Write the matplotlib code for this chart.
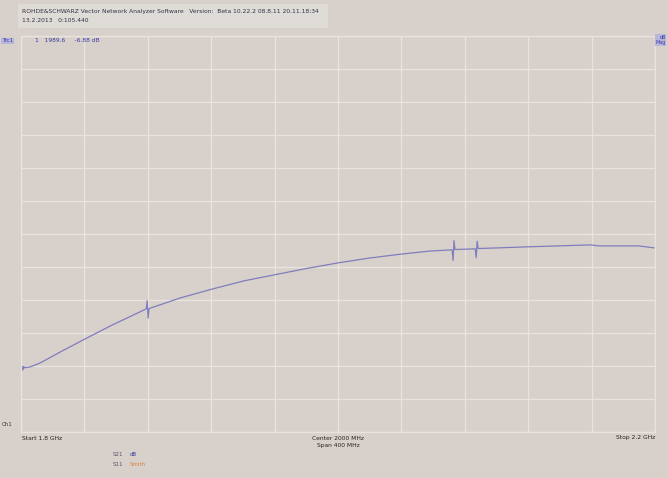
import numpy as np
import matplotlib.pyplot as plt

# trace (MHz, dB)
freq = [1800.6, 1805.7, 1812.0, 1824.6, 1840.4, 1856.2, 1879.0, 1879.6, 1880.2,
        1880.8, 1900.3, 1920.5, 1940.7, 1959.6, 1978.5, 1999.4, 2019.6, 2039.7,
        2057.4, 2072.0, 2072.6, 2073.2, 2073.8, 2086.6, 2087.2, 2087.8, 2088.4,
        2101.3, 2119.0, 2139.2, 2159.4, 2164.4, 2177.0, 2189.6, 2199.4]
s21_db = [-10.06, -10.03, -9.91, -9.58, -9.18, -8.79, -8.27, -8.02, -8.55,
          -8.26, -7.94, -7.67, -7.42, -7.24, -7.06, -6.88, -6.73, -6.61,
          -6.52, -6.48, -6.80, -6.20, -6.47, -6.45, -6.72, -6.22, -6.44,
          -6.42, -6.39, -6.36, -6.33, -6.36, -6.36, -6.36, -6.42]

start, stop = 1800, 2200
ref_db, n_div = 0, 12

header = ("ROHDE&SCHWARZ Vector Network Analyzer Software   Version:  "
          "Beta 10.22.2 08.8.11 20.11.18:34")
date_line = "13.2.2013   0:105.440"
marker_text = "1   1989.6     -6.88 dB"

bg = "#d8d1cb"
grid_c = "#e9e4df"
trace_c = "#7f7dbd"

fig = plt.figure(figsize=(6.68, 4.78), dpi=100, facecolor=bg)
fig.patches.append(plt.Rectangle((18 / 668, 1 - 28 / 478), 310 / 668, 24 / 478,
                                 transform=fig.transFigure, fc="#dfdbd6", ec="none"))
ax = fig.add_axes([21 / 668, 46 / 478, 634 / 668, 396 / 478])
ax.set_facecolor(bg)

ax.set_xlim(start, stop)
ax.set_ylim(ref_db - n_div, ref_db)
ax.set_xticks(np.linspace(start, stop, 11))
ax.set_yticks(np.arange(ref_db - n_div, ref_db + 1))
ax.grid(True, color=grid_c, lw=0.9)
ax.tick_params(length=0, labelbottom=False, labelleft=False)
for s in ax.spines.values():
    s.set_color(grid_c)
    s.set_linewidth(0.9)

ax.plot(freq, s21_db, color=trace_c, lw=0.9)
ax.plot(freq[0], s21_db[0], marker="v", ms=2.5, color=trace_c)

# header and annotations
fig.text(22 / 668, 1 - 12 / 478, header, fontsize=4.3, color="#333344", va="center")
fig.text(22 / 668, 1 - 21 / 478, date_line, fontsize=4.3, color="#333344", va="center")
fig.text(2 / 668, 1 - 41 / 478, "Trc1", fontsize=4, color="#3a3aa0", va="center",
         bbox=dict(fc="#b9b6dd", ec="none", pad=0.5))
fig.text(35 / 668, 1 - 41 / 478, marker_text, fontsize=4.3, color="#3a3aa0", va="center")
fig.text(666 / 668, 1 - 40 / 478, "dB\nMag", fontsize=3.5, color="#3a3aa0", va="center",
         ha="right", bbox=dict(fc="#b9b6dd", ec="none", pad=0.3))

fig.text(2 / 668, 1 - 424 / 478, "Ch1", fontsize=4, color="#333333", va="center")
fig.text(22 / 668, 1 - 438 / 478, "Start 1.8 GHz", fontsize=4.3, color="#222222", va="center")
fig.text(338 / 668, 1 - 439 / 478, "Center 2000 MHz", fontsize=4.3, color="#222222",
         va="center", ha="center")
fig.text(338 / 668, 1 - 446 / 478, "Span 400 MHz", fontsize=4.3, color="#222222",
         va="center", ha="center")
fig.text(655 / 668, 1 - 438 / 478, "Stop 2.2 GHz", fontsize=4.3, color="#222222",
         va="center", ha="right")

fig.text(113 / 668, 1 - 455 / 478, "S21", fontsize=4, color="#555566", va="center")
fig.text(130 / 668, 1 - 455 / 478, "dB", fontsize=4, color="#3a3aa0", va="center")
fig.text(113 / 668, 1 - 464 / 478, "S11", fontsize=4, color="#555566", va="center")
fig.text(130 / 668, 1 - 464 / 478, "Smith", fontsize=4, color="#d88040", va="center")

fig.savefig("out.png", dpi=100, facecolor=bg)
